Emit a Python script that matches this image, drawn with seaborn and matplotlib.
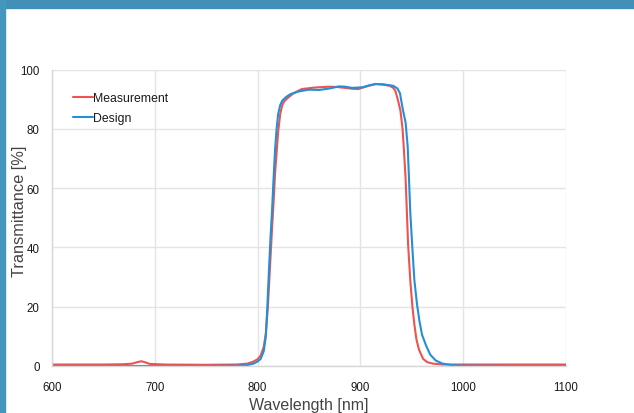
import matplotlib
matplotlib.use('Agg')
import matplotlib.pyplot as plt
from matplotlib.patches import Rectangle
import pandas as pd
import seaborn as sns

# values
design_nm = [600, 650, 700, 750, 780, 790, 796, 800, 803, 806, 808, 809.5, 811, 812.5,
             814, 815.5, 817, 818.5, 820, 822, 824, 828, 832, 840, 850, 860, 870, 879,
             885, 892, 902, 910, 915, 922, 928, 932, 936, 938.5, 941, 944, 946, 947.3,
             948.5, 950.5, 952.5, 955, 957.5, 960, 964, 968, 973.5, 980, 989, 1000,
             1050, 1100]
design_t = [0, 0, 0, 0, 0.1, 0.3, 0.8, 1.5, 2.4, 5, 10, 20, 32, 43,
            52, 63, 73, 80, 85, 88, 89.5, 90.8, 91.7, 92.6, 93.2, 93.1, 93.6, 94.3,
            94.2, 93.8, 94.0, 94.8, 95.1, 95.0, 94.7, 94.5, 93.6, 92.0, 87, 82, 74, 63,
            52, 40, 29, 21, 15, 10.5, 6.8, 3.8, 1.8, 0.8, 0.3, 0.1,
            0, 0]

meas_nm = [600, 650, 670, 678, 683, 687, 691, 695, 710, 750, 780, 790, 796, 800, 803,
           806, 808, 810, 812, 814, 815.5, 817, 818.5, 820, 822, 824, 826, 829, 835,
           843, 855, 869, 877, 885, 892, 898, 905, 915, 922, 928.5, 932, 934, 935.5,
           937, 939, 941, 942.5, 944, 945.2, 946.4, 948.5, 950.6, 952.5, 954.5, 957,
           961, 965, 970.5, 980, 1000, 1050, 1100]
meas_t = [0.5, 0.5, 0.6, 0.8, 1.3, 1.6, 1.2, 0.7, 0.5, 0.4, 0.5, 0.8, 1.5, 2.3, 3.5,
          6.5, 11, 20, 33, 46, 55, 65, 72, 79, 85, 88, 89.3, 90.3, 92,
          93.4, 93.9, 94.2, 94.1, 93.8, 93.5, 93.4, 94.2, 95.1, 94.9, 94.5, 93.8, 92.8, 91,
          89, 86, 80, 72, 63, 52, 41, 29, 20, 14, 9, 5.5,
          2.4, 1.3, 0.8, 0.5, 0.5, 0.5, 0.5]

df = pd.concat([
    pd.DataFrame({'nm': meas_nm, 'T': meas_t, 'series': 'Measurement'}),
    pd.DataFrame({'nm': design_nm, 'T': design_t, 'series': 'Design'}),
])

sns.set_style('white')
plt.rcParams['font.family'] = ['Liberation Sans', 'DejaVu Sans']

fig = plt.figure(figsize=(6.34, 4.14), dpi=100)
ax = fig.add_axes([52/634, 47/414, 514/634, 296.5/414])

sns.lineplot(data=df, x='nm', y='T', hue='series', sort=False, estimator=None,
             palette={'Measurement': '#ef5350', 'Design': '#2190d8'},
             linewidth=1.5, ax=ax)

ax.set_xlim(600, 1100)
ax.set_ylim(0, 100)
ax.set_xticks([600, 700, 800, 900, 1000, 1100])
ax.set_yticks([0, 20, 40, 60, 80, 100])
ax.grid(True, color='#e4e4e4', linewidth=1)
ax.set_axisbelow(True)
for s in ['top', 'right']:
    ax.spines[s].set_visible(False)
for s in ['left', 'bottom']:
    ax.spines[s].set_color('#d6d6d6')
    ax.spines[s].set_linewidth(1)
ax.tick_params(axis='both', length=0, labelsize=8.3, labelcolor='#1a1a1a')
ax.tick_params(axis='y', pad=9)
ax.tick_params(axis='x', pad=11)

ax.set_xlabel('Wavelength [nm]', fontsize=11.5, color='#444444', labelpad=3)
ax.set_ylabel('Transmittance [%]', fontsize=11.8, color='#444444')
ax.yaxis.set_label_coords(-0.049, 0.526)

ax.legend(title=None, loc='upper left', bbox_to_anchor=(0.041, 0.923), frameon=False,
          borderpad=0, borderaxespad=0, handlelength=1.6, handletextpad=0,
          labelspacing=0.62, fontsize=8.8, labelcolor='#1a1a1a')

# blue frame at the top and left edges
fig.patches.append(Rectangle((0, 1 - 9/414), 1, 9/414, transform=fig.transFigure,
                             color='#4290b8', zorder=0))
fig.patches.append(Rectangle((0, 0), 5/634, 1, transform=fig.transFigure,
                             color='#4596be', zorder=0))

fig.savefig('out.png', dpi=100)
